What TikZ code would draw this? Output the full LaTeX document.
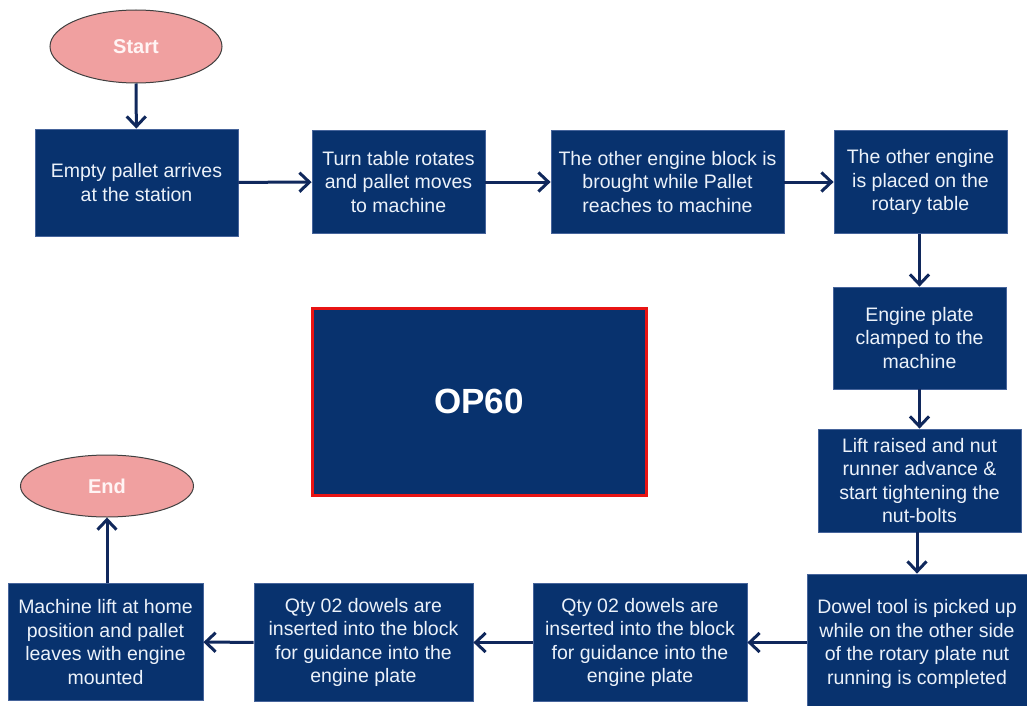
\documentclass[tikz,border=0pt]{standalone}
\usepackage{fontspec}
\setmainfont{Liberation Sans}
\usetikzlibrary{shapes.geometric,arrows.meta}

\definecolor{boxfill}{RGB}{8,50,110}
\definecolor{boxedge}{RGB}{70,100,155}
\definecolor{boxtext}{RGB}{236,242,250}
\definecolor{flowline}{RGB}{16,40,92}
\definecolor{termfill}{RGB}{240,160,160}
\definecolor{termtext}{RGB}{255,244,244}
\definecolor{opedge}{RGB}{232,20,20}

\tikzset{
  stepbox/.style={rectangle, fill=boxfill, draw=boxedge, line width=0.8pt,
    text=boxtext, font=\fontsize{19.5}{23.5}\selectfont, align=center, inner sep=0pt},
  terminal/.style={ellipse, fill=termfill, draw=black!75, line width=1pt,
    text=termtext, font=\bfseries\fontsize{20}{23}\selectfont, inner sep=0pt},
  opbox/.style={rectangle, fill=boxfill, draw=opedge, line width=3pt,
    text=white, font=\bfseries\fontsize{35}{40}\selectfont, inner sep=0pt},
  flow/.style={draw=flowline, line width=3pt, -{Straight Barb[length=10pt,width=19pt]}}
}

\begin{document}
\begin{tikzpicture}[x=1pt,y=-1pt]
\useasboundingbox (0,0) rectangle (1027,706);
\clip (0,0) rectangle (1027,706);

% terminals
\node[terminal, minimum width=172pt, minimum height=73pt] (start) at (136,46.5) {Start};
\node[terminal, minimum width=173pt, minimum height=62pt] (finish) at (107,486) {End};

% top row
\node[stepbox, minimum width=203pt, minimum height=107pt] (b1) at (136.5,182.5)
  {Empty pallet arrives\\at the station};
\node[stepbox, minimum width=173pt, minimum height=103pt] (b2) at (398.5,182)
  {Turn table rotates\\and pallet moves\\to machine};
\node[stepbox, minimum width=233pt, minimum height=103pt] (b3) at (667.5,182)
  {The other engine block is\\brought while Pallet\\reaches to machine};
\node[stepbox, minimum width=173pt, minimum height=103pt] (b4) at (920.5,182)
  {The other engine\\is placed on the\\rotary table};

% right column
\node[stepbox, minimum width=173pt, minimum height=102pt] (b5) at (919.5,338)
  {Engine plate\\clamped to the\\machine};
\node[stepbox, minimum width=203pt, minimum height=103pt] (b6) at (919.5,480.5)
  {Lift raised and nut\\runner advance \&\\start tightening the\\nut-bolts};
\node[stepbox, minimum width=220pt, minimum height=140pt] (b7) at (917,644)
  {Dowel tool is picked up\\while on the other side\\of the rotary plate nut\\running is completed};

% bottom row
\node[stepbox, minimum width=214pt, minimum height=118pt] (b8) at (640,642.5)
  {Qty 02 dowels are\\inserted into the block\\for guidance into the\\engine plate};
\node[stepbox, minimum width=219pt, minimum height=118pt] (b9) at (363.5,642.5)
  {Qty 02 dowels are\\inserted into the block\\for guidance into the\\engine plate};
\node[stepbox, minimum width=195pt, minimum height=117pt] (b10) at (105.5,642)
  {Machine lift at home\\position and pallet\\leaves with engine\\mounted};

% station label
\node[opbox, minimum width=334pt, minimum height=187pt] (op) at (479,401.5) {OP60};

% connectors
\draw[flow] (start) -- (b1);
\draw[flow] (b1) -- (b2);
\draw[flow] (b2) -- (b3);
\draw[flow] (b3) -- (b4);
\draw[flow] (b4.south -| b5) -- (b5);
\draw[flow] (b5) -- (b6);
\draw[flow] (b6.south -| b7) -- (b7);
\draw[flow] (b7.west |- b8) -- (b8);
\draw[flow] (b8) -- (b9);
\draw[flow] (b9) -- (b10);
\draw[flow] (b10.north -| finish) -- (finish);
\end{tikzpicture}
\end{document}
